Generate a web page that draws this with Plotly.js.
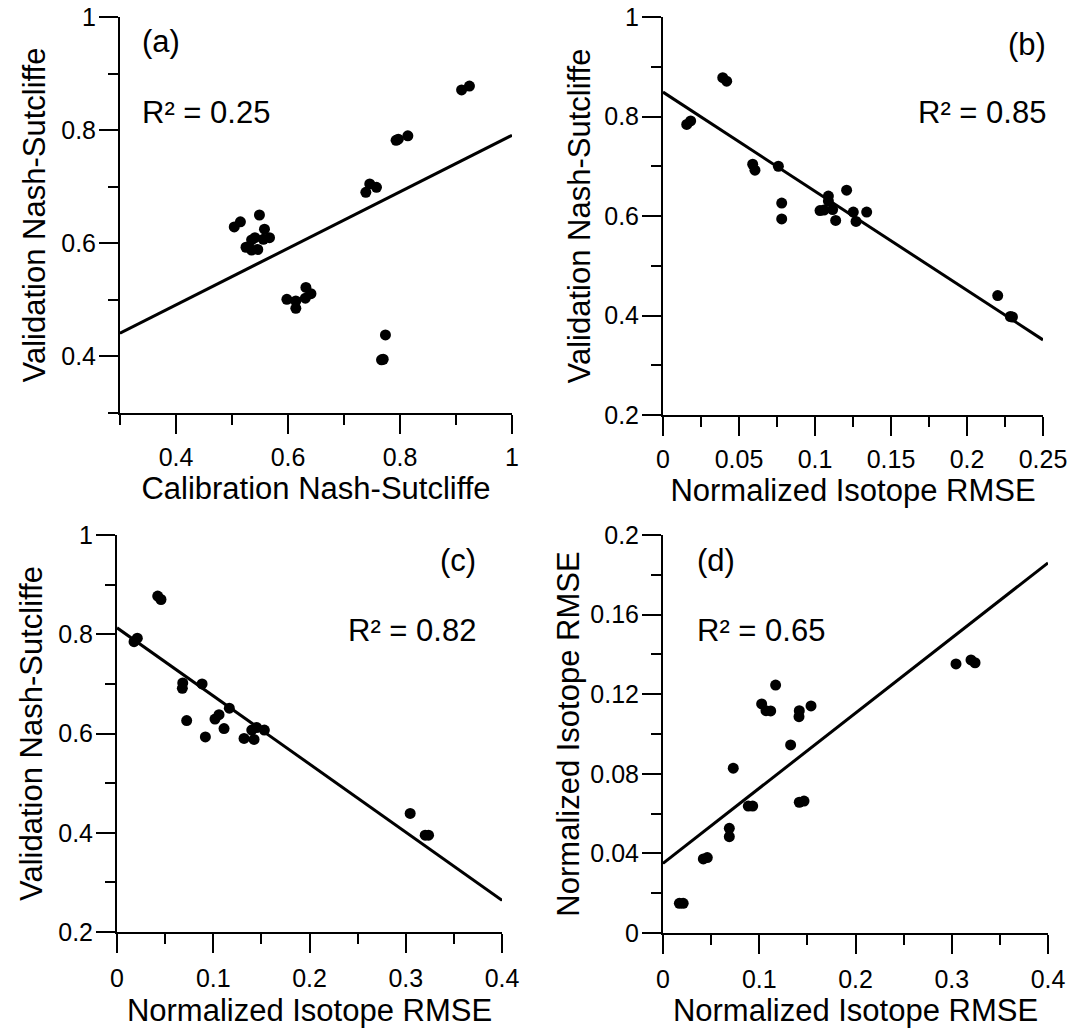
<!DOCTYPE html>
<html>
<head>
<meta charset="utf-8">
<script src="https://cdn.plot.ly/plotly-3.0.1.min.js"></script>
<style>
  html, body { margin: 0; padding: 0; background: #ffffff; }
  #chart { width: 1072px; height: 1028px; }
</style>
</head>
<body>
<div id="chart"></div>
<script>
// ---------- Data ----------
// (a) Calibration NS vs Validation NS
const calNS_a = [0.910, 0.924, 0.793, 0.797, 0.814, 0.739, 0.746, 0.758, 0.504, 0.515, 0.549, 0.558, 0.567, 0.556,
                 0.541, 0.535, 0.525, 0.535, 0.546, 0.598, 0.614, 0.614, 0.631, 0.632, 0.641, 0.774, 0.767, 0.770];
const valNS_a = [0.871, 0.878, 0.782, 0.784, 0.790, 0.690, 0.705, 0.699, 0.629, 0.638, 0.650, 0.625, 0.610, 0.607,
                 0.610, 0.606, 0.593, 0.588, 0.589, 0.501, 0.498, 0.485, 0.503, 0.522, 0.511, 0.438, 0.394, 0.395];
const fitA_x = [0.3, 1.0];
const fitA_y = [0.441, 0.791];

// (b) Normalized isotope RMSE vs Validation NS
const rmse_b = [0.0393, 0.0419, 0.0156, 0.0182, 0.0590, 0.0605, 0.0759, 0.0781, 0.0781, 0.1088, 0.1088, 0.1033,
                0.1059, 0.1116, 0.1136, 0.1208, 0.1252, 0.1270, 0.1340, 0.2202, 0.2299, 0.2285];
const valNS_b = [0.878, 0.871, 0.784, 0.791, 0.704, 0.692, 0.700, 0.626, 0.594, 0.640, 0.630, 0.611,
                 0.612, 0.613, 0.591, 0.652, 0.608, 0.589, 0.608, 0.440, 0.397, 0.398];
const fitB_x = [0, 0.25];
const fitB_y = [0.849, 0.351];

// (c) Normalized isotope RMSE vs Validation NS
const rmse_c = [0.0423, 0.0457, 0.0177, 0.0211, 0.0683, 0.0679, 0.0884, 0.0724, 0.0918, 0.1167, 0.1018,
                0.1060, 0.1112, 0.1320, 0.1400, 0.1452, 0.1531, 0.1424, 0.3046, 0.3202, 0.3237];
const valNS_c = [0.877, 0.870, 0.785, 0.792, 0.702, 0.691, 0.700, 0.626, 0.593, 0.651, 0.629,
                 0.638, 0.610, 0.590, 0.607, 0.612, 0.607, 0.588, 0.439, 0.395, 0.395];
const fitC_x = [0, 0.4];
const fitC_y = [0.813, 0.264];

// (d) Normalized isotope RMSE vs Normalized isotope RMSE
const rmseX_d = [0.017, 0.021, 0.0419, 0.046, 0.0689, 0.0689, 0.073, 0.0886, 0.0932, 0.1025, 0.107,
                 0.1119, 0.117, 0.1326, 0.1416, 0.1413, 0.1538, 0.1416, 0.1465, 0.3044, 0.320, 0.3242];
const rmseY_d = [0.0149, 0.0149, 0.0372, 0.0379, 0.0526, 0.0484, 0.0828, 0.0638, 0.0638, 0.1151, 0.1117,
                 0.1116, 0.1246, 0.0945, 0.1117, 0.1087, 0.1141, 0.0657, 0.0663, 0.1352, 0.1372, 0.1358];
const fitD_x = [0, 0.4];
const fitD_y = [0.035, 0.186];

const panelLabels = ["(a)", "(b)", "(c)", "(d)"];
const r2Labels = ["R\u00b2 = 0.25", "R\u00b2 = 0.85", "R\u00b2 = 0.82", "R\u00b2 = 0.65"];
const titleCalNS = "Calibration Nash-Sutcliffe";
const titleValNS = "Validation Nash-Sutcliffe";
const titleRMSE = "Normalized Isotope RMSE";

// ---------- Styling ----------
const FONT = "Liberation Sans, Arial, Helvetica, sans-serif";
const W = 1072, H = 1028;
const px = v => v / W;
const py = v => 1 - v / H;

function pts(x, y, xa, ya) {
  return { x: x, y: y, xaxis: xa, yaxis: ya, type: "scatter", mode: "markers",
           marker: { color: "#000", size: 11 }, hoverinfo: "skip", cliponaxis: false };
}
function fit(x, y, xa, ya) {
  return { x: x, y: y, xaxis: xa, yaxis: ya, type: "scatter", mode: "lines",
           line: { color: "#000", width: 3 }, hoverinfo: "skip" };
}

function axis(domain, range, dtick, minorDtick, title, anchor, labelOff, titleOff) {
  return {
    domain: domain, range: range, anchor: anchor, autorange: false,
    showgrid: false, zeroline: false, showline: true, linecolor: "#000", linewidth: 2,
    ticks: "outside", ticklen: 19, tickwidth: 2, tickcolor: "#000",
    tick0: 0, dtick: dtick, ticklabelstandoff: labelOff,
    minor: { dtick: minorDtick, tick0: 0, ticks: "outside", ticklen: 10, tickwidth: 2, tickcolor: "#000", showgrid: false },
    tickfont: { family: FONT, size: 25, color: "#000" },
    title: { text: title, font: { family: FONT, size: 31, color: "#000" }, standoff: titleOff },
    fixedrange: true
  };
}

const data = [
  pts(calNS_a, valNS_a, "x", "y"), fit(fitA_x, fitA_y, "x", "y"),
  pts(rmse_b, valNS_b, "x2", "y2"), fit(fitB_x, fitB_y, "x2", "y2"),
  pts(rmse_c, valNS_c, "x3", "y3"), fit(fitC_x, fitC_y, "x3", "y3"),
  pts(rmseX_d, rmseY_d, "x4", "y4"), fit(fitD_x, fitD_y, "x4", "y4")
];

const layout = {
  width: W, height: H, margin: { l: 0, r: 0, t: 0, b: 0 },
  paper_bgcolor: "#fff", plot_bgcolor: "#fff", showlegend: false,
  font: { family: FONT, color: "#000" },
  xaxis:  axis([px(120), px(512)], [0.3, 1], 0.2, 0.1, titleCalNS, "y", 2, 6),
  yaxis:  axis([py(413), py(17)], [0.3, 1], 0.2, 0.1, titleValNS, "x", -2, 6),
  xaxis2: axis([px(663), px(1043)], [0, 0.25], 0.05, 0.025, titleRMSE, "y2", 2, 6),
  yaxis2: axis([py(415), py(17)], [0.2, 1], 0.2, 0.1, titleValNS, "x2", -2, 4),
  xaxis3: axis([px(117), px(502)], [0, 0.4], 0.1, 0.05, titleRMSE, "y3", 4, 10),
  yaxis3: axis([py(932), py(535)], [0.2, 1], 0.2, 0.1, titleValNS, "x3", -2, 6),
  xaxis4: axis([px(663), px(1048)], [0, 0.4], 0.1, 0.05, titleRMSE, "y4", 4, 10),
  yaxis4: axis([py(933), py(535)], [0, 0.2], 0.04, 0.02, titleRMSE, "x4", -2, 1),
  annotations: [
    { text: panelLabels[0], x: px(140), y: py(42), xanchor: "left", yanchor: "middle" },
    { text: r2Labels[0],    x: px(140), y: py(112), xanchor: "left", yanchor: "middle" },
    { text: panelLabels[1], x: px(1048), y: py(45), xanchor: "right", yanchor: "middle" },
    { text: r2Labels[1],    x: px(1048), y: py(112), xanchor: "right", yanchor: "middle" },
    { text: panelLabels[2], x: px(478), y: py(560), xanchor: "right", yanchor: "middle" },
    { text: r2Labels[2],    x: px(478), y: py(630), xanchor: "right", yanchor: "middle" },
    { text: panelLabels[3], x: px(695), y: py(560), xanchor: "left", yanchor: "middle" },
    { text: r2Labels[3],    x: px(695), y: py(630), xanchor: "left", yanchor: "middle" }
  ].map(a => Object.assign({ xref: "paper", yref: "paper", showarrow: false,
                             font: { family: FONT, size: 31, color: "#000" } }, a))
};

Plotly.newPlot("chart", data, layout, { staticPlot: true, displayModeBar: false });
</script>
</body>
</html>
